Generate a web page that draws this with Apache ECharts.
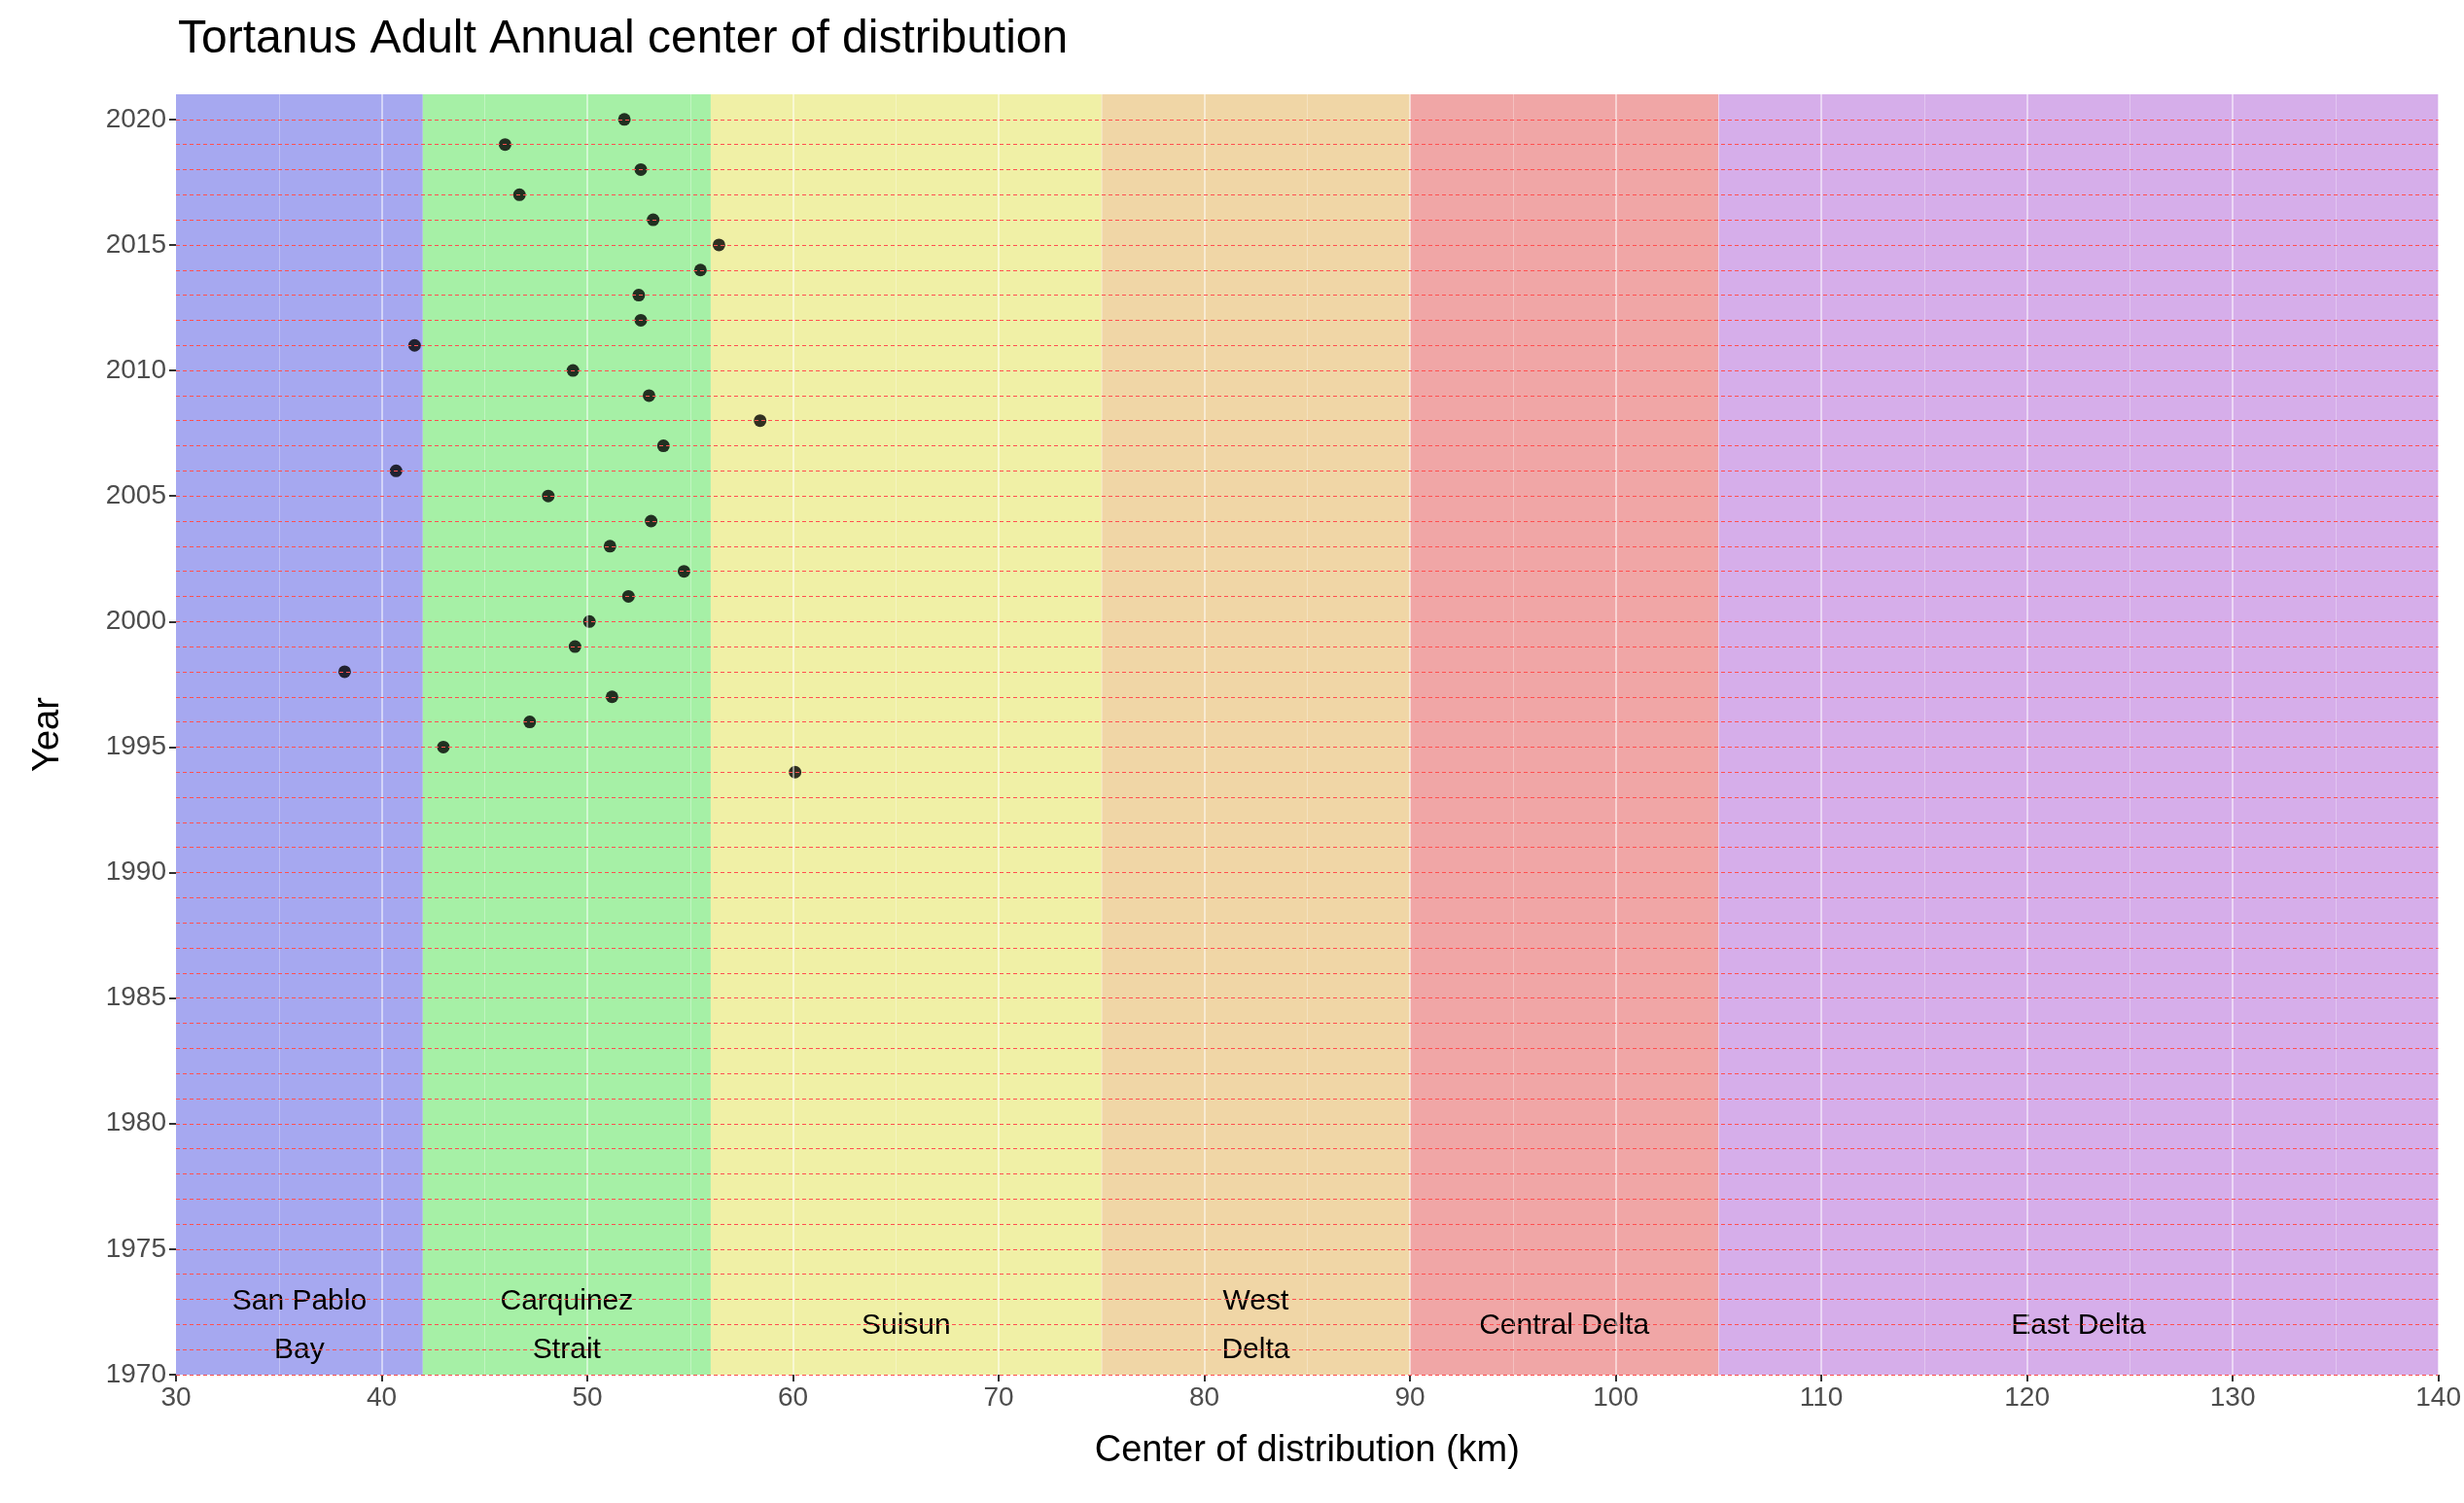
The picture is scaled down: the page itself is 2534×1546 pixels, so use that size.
<!DOCTYPE html>
<html><head><meta charset="utf-8">
<script src="https://cdn.jsdelivr.net/npm/echarts@6/dist/echarts.min.js"></script>
<style>html,body{margin:0;padding:0;background:#fff}#c{width:2534px;height:1546px}</style>
</head><body><div id="c"></div>
<script>
const years = [2020,2019,2018,2017,2016,2015,2014,2013,2012,2011,2010,2009,2008,2007,2006,2005,2004,2003,2002,2001,2000,1999,1998,1997,1996,1995,1994];
const centers = [51.8,46.0,52.6,46.7,53.2,56.4,55.5,52.5,52.6,41.6,49.3,53.0,58.4,53.7,40.7,48.1,53.1,51.1,54.7,52.0,50.1,49.4,38.2,51.2,47.2,43.0,60.1];
const regionNames = ['San Pablo\nBay','Carquinez\nStrait','Suisun','West\nDelta','Central Delta','East Delta'];
const regionStart = [30,42,56,75,90,105];
const regionEnd = [42,56,75,90,105,140];
const regionColors = ['#a6a8f0','#a6f0a6','#f0f0a6','#f0d6a6','#f0a6a6','#d6aeea'];
const yearLines = []; for (let y=1970;y<=2020;y++) yearLines.push(y);
const xGrid = []; for (let x=35;x<=140;x+=5) xGrid.push(x);

const F='Liberation Sans, Arial, sans-serif';
const chart = echarts.init(document.getElementById('c'));
chart.setOption({
  animation:false,
  title:{text:'Tortanus Adult Annual center of distribution',left:178,top:12,textStyle:{fontFamily:F,fontSize:48,fontWeight:'normal',color:'#000'}},
  grid:{left:181,right:26,top:97,bottom:132},
  xAxis:{type:'value',min:30,max:140,interval:10,name:'Center of distribution (km)',nameLocation:'middle',nameGap:60,
    nameTextStyle:{fontFamily:F,fontSize:38,color:'#000'},
    axisLine:{show:false},axisTick:{show:true,length:7,lineStyle:{color:'#333',width:2}},
    axisLabel:{fontFamily:F,fontSize:28,color:'#4d4d4d',margin:10},splitLine:{show:false}},
  yAxis:{type:'value',min:1970,max:2021,interval:5,name:'Year',nameLocation:'middle',nameGap:112,
    nameTextStyle:{fontFamily:F,fontSize:38,color:'#000'},
    axisLine:{show:false},axisTick:{show:true,length:7,lineStyle:{color:'#333',width:2}},
    axisLabel:{fontFamily:F,fontSize:28,color:'#4d4d4d',margin:10,showMaxLabel:false,formatter:v=>String(v)},splitLine:{show:false}},
  series:[
    {type:'scatter',data:[],silent:true,
      markArea:{silent:true,
        label:{show:true,position:'insideBottom',fontFamily:F,fontSize:30,color:'#000',lineHeight:50,align:'center'},
        data:regionNames.map((n,i)=>[{name:n,xAxis:regionStart[i],yAxis:1970,itemStyle:{color:regionColors[i],opacity:1},
          label:{distance:n.indexOf('\n')>=0?0:25}},{xAxis:regionEnd[i],yAxis:2021}])}},
    {type:'scatter',data:[],silent:true,
      markLine:{silent:true,symbol:'none',label:{show:false},
        data:xGrid.map(x=>({xAxis:x,lineStyle:{color:'rgba(255,255,255,'+(x%10===0?0.5:0.3)+')',width:x%10===0?2:1,type:'solid'}}))}},
    {type:'scatter',data:[],silent:true,
      markLine:{silent:true,symbol:'none',label:{show:false},
        data:yearLines.map(y=>({yAxis:y,lineStyle:{color:'#ff5050',width:1,type:[4,3]}}))}},
    {type:'scatter',symbolSize:13,itemStyle:{color:'#000'},data:centers.map((c,i)=>[c,years[i]])}
  ]
});
</script></body></html>
